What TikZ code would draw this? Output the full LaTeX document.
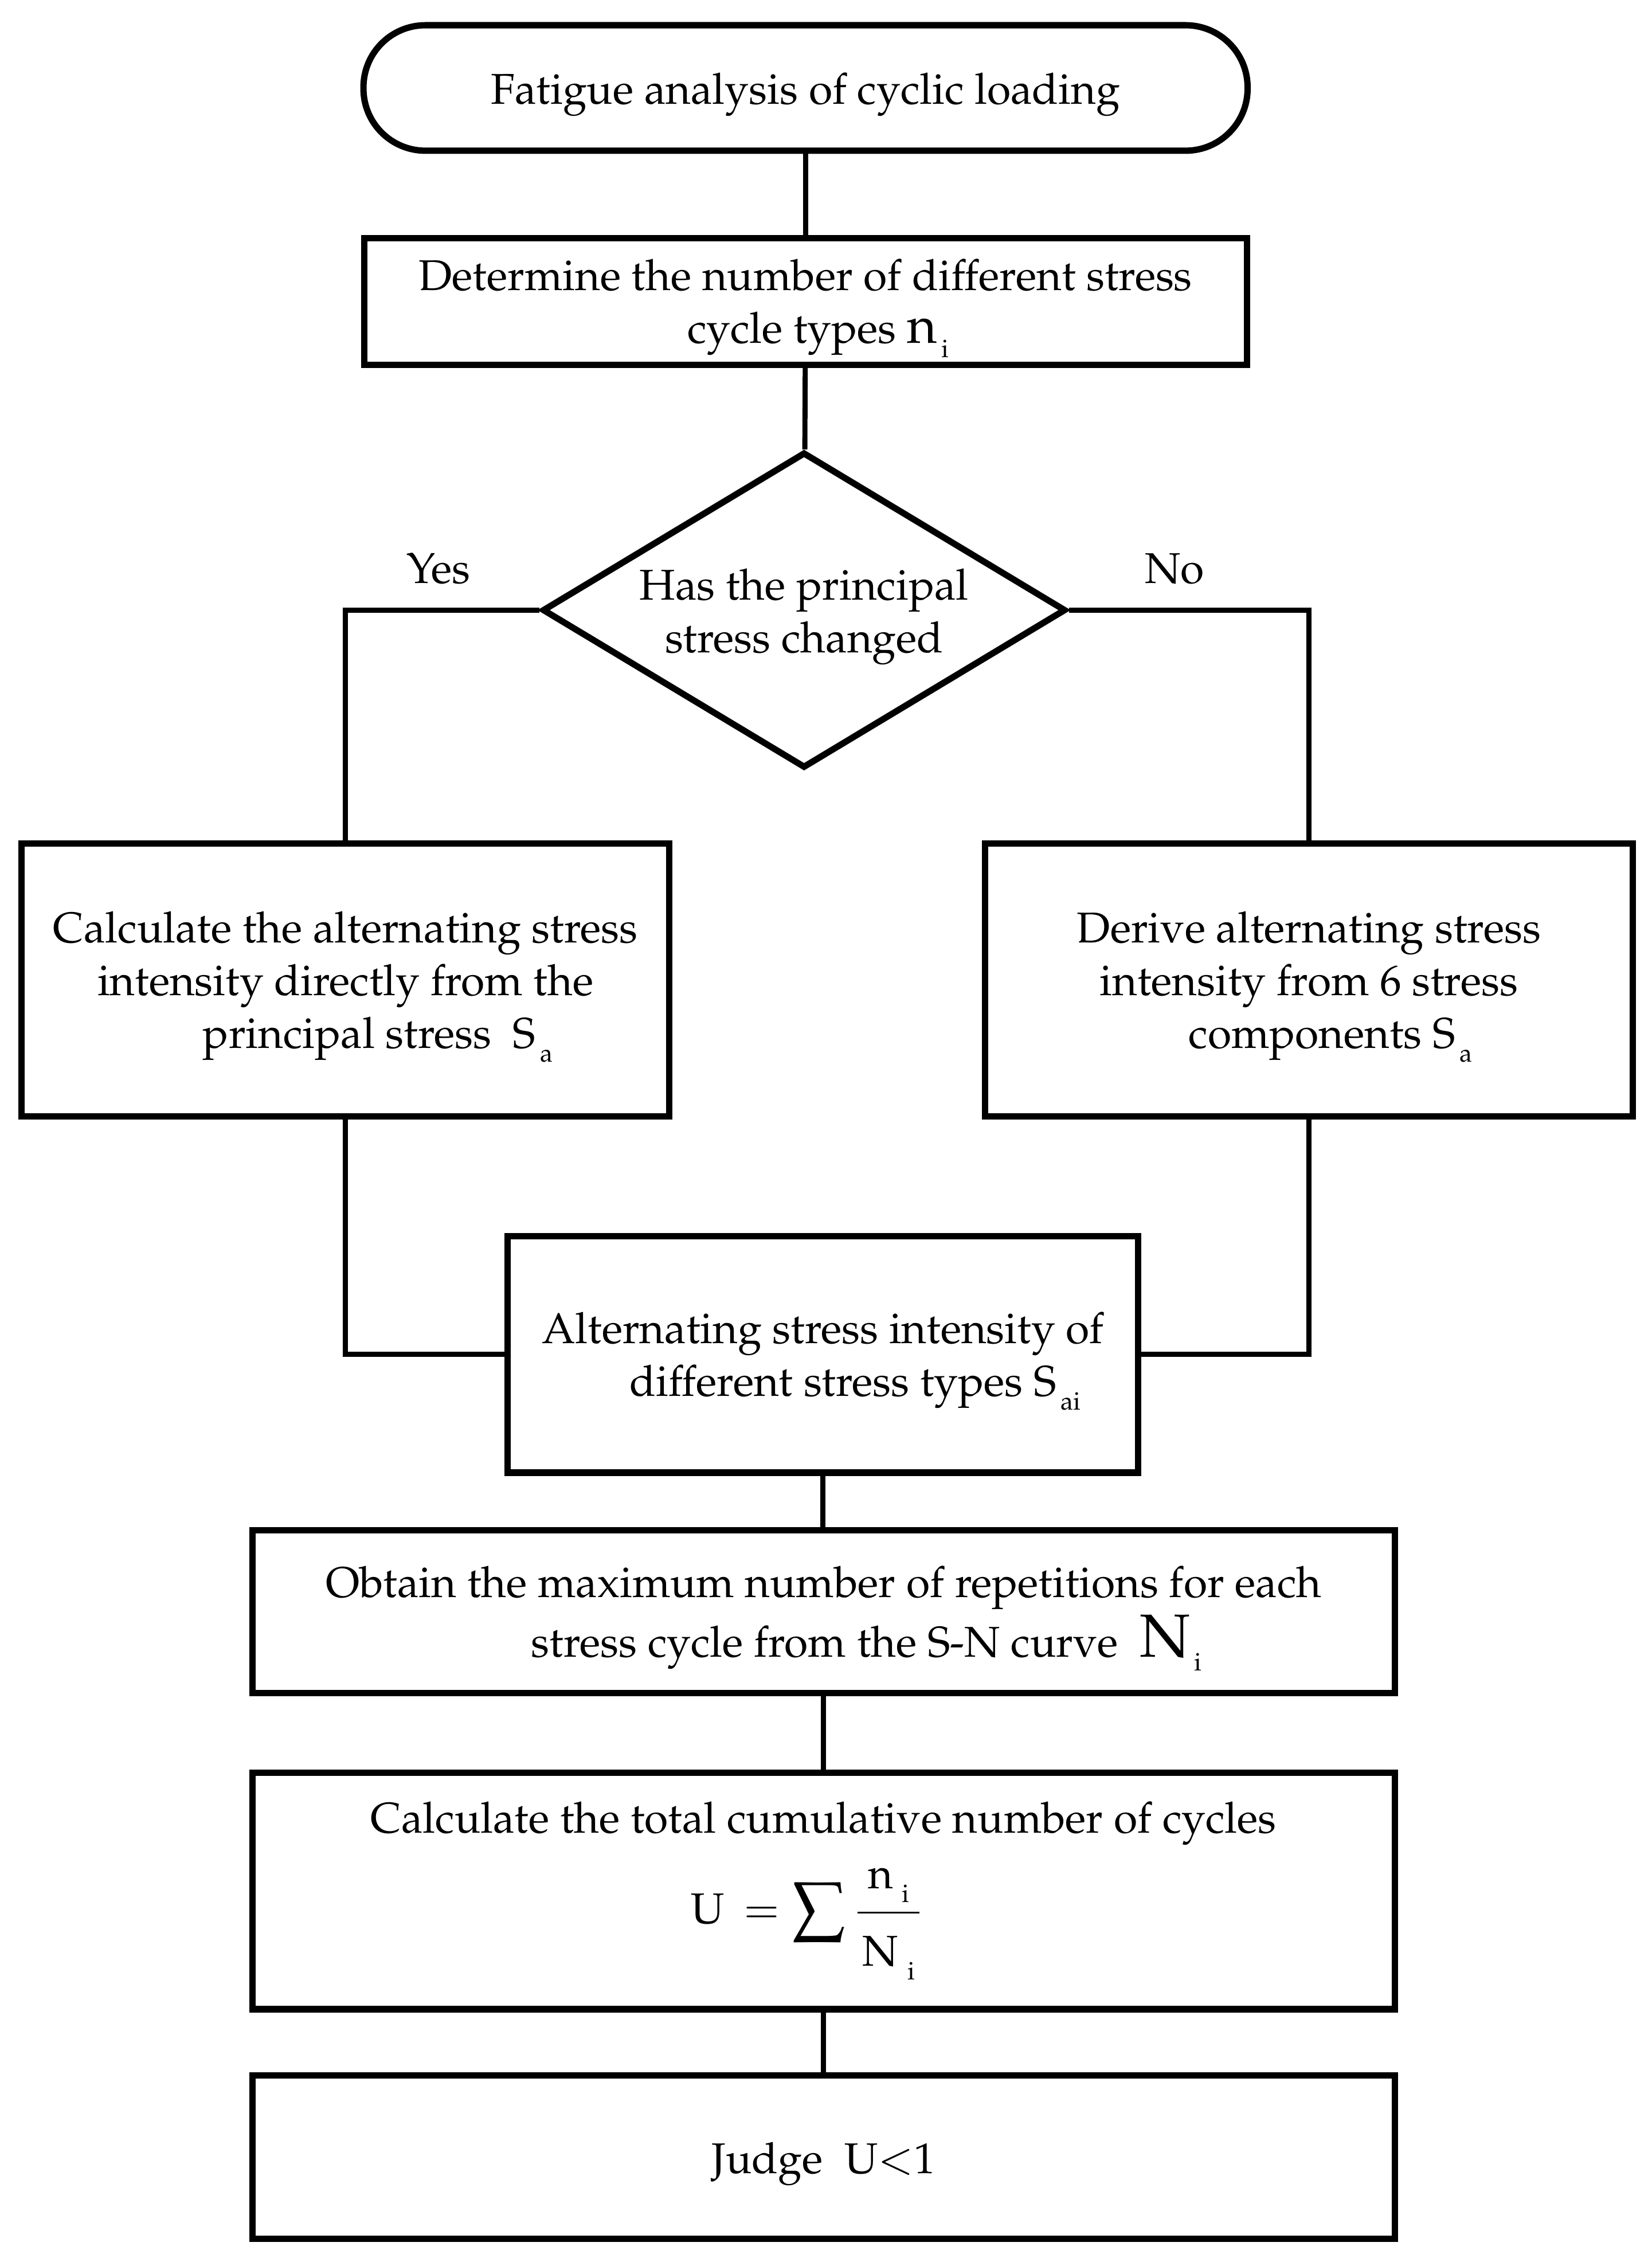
\documentclass[tikz,border=0pt]{standalone}
\usepackage[T1]{fontenc}
\usepackage{mathpazo}
\usepackage{amsmath}
\usepackage{graphicx}
\usetikzlibrary{shapes.geometric, positioning}

% small lowered index, as in S_a or n_i
\newcommand{\idx}[1]{\hspace{0.1em}\raisebox{-2.8pt}{\fontsize{5}{5}\selectfont #1}}
% strut for the first line of a box
\newcommand{\boxtop}{\rule{0pt}{8.8pt}}
% larger sum sign
\newcommand{\bigsum}{\mathop{\vcenter{\hbox{\scalebox{1.55}{$\textstyle\sum$}}}}}

\begin{document}
\begin{tikzpicture}[
		font=\fontsize{8.5}{10.4}\selectfont,
		box/.style={draw, line width=1.25pt, align=center, inner sep=0pt},
		link/.style={line width=1pt},
	]
	\def\wide{7.92cm};
	\def\low{1.13cm};

	\useasboundingbox (0,0) rectangle (11.45,-15.655);

	% main column
	\begin{scope}
		\node[box, rounded corners=4.3mm, minimum width=6.13cm, minimum height=0.87cm] (start) at (5.585,-0.61) {\boxtop Fatigue analysis of cyclic loading};
		\node[box, minimum width=6.12cm, minimum height=0.88cm] (count) at (5.585,-2.09) {\boxtop Determine the number of different stress\\ \hspace*{5pt}cycle types {\fontsize{10.2}{10.4}\selectfont n}\idx{i}};
		\node[box, diamond, aspect=1.66, minimum width=3.63cm, minimum height=2.19cm] (changed) at (5.575,-4.23) {\boxtop Has the principal\\ stress changed};
	\end{scope}

	% two branches
	\begin{scope}
		\node[box, minimum width=4.49cm, minimum height=1.89cm] (direct) at (2.395,-6.795) {\boxtop Calculate the alternating stress\\ intensity directly from the\\ \quad\enspace principal stress ~S\idx{a}};
		\node[box, minimum width=4.49cm, minimum height=1.89cm] (derive) at (9.075,-6.795) {\boxtop Derive alternating stress\\ intensity from 6 stress\\ \quad components S\idx{a}};
		\node[box, minimum width=4.37cm, minimum height=1.64cm] (amp) at (5.705,-9.39) {\boxtop Alternating stress intensity of\\ \quad\enspace different stress types S\idx{ai}};
	\end{scope}

	% lower column
	\begin{scope}
		\node[box, minimum width=\wide, minimum height=\low] (sn) at (5.71,-11.175) {\boxtop Obtain the maximum number of repetitions for each\\ \qquad stress cycle from the S-N curve ~{\large N}\idx{i}};
		\node[box, minimum width=\wide, minimum height=1.64cm] (sum) at (5.71,-13.11) {Calculate the total cumulative number of cycles\\[3.5pt] $\mathrm{U}\,=\bigsum\dfrac{\raisebox{1.2pt}{$\mathrm{n}\mkern2mu\idx{i}$}}{\raisebox{-2.5pt}{$\mkern2mu\mathrm{N}\mkern2mu\idx{i}\mkern2mu$}}$\hspace*{6pt}};
		\node[box, minimum width=\wide, minimum height=\low] (judge) at (5.71,-14.955) {\boxtop Judge ~$\mathrm{U}{<}1$};
	\end{scope}

	\begin{scope}[link]
		\draw (start) -- (count);
		\draw (count) -- (changed);
		\draw (changed.west) -| node[pos=0.26, above=1.3pt] {Yes} (direct.north);
		\draw (changed.east) -| node[pos=0.22, above=1.3pt] {No} (derive.north);
		\draw (direct.south) |- (amp.west);
		\draw (derive.south) |- (amp.east);
		\draw (amp.south) -- (amp.south |- sn.north);
		\draw (sn) -- (sum);
		\draw (sum) -- (judge);
	\end{scope}
\end{tikzpicture}
\end{document}
